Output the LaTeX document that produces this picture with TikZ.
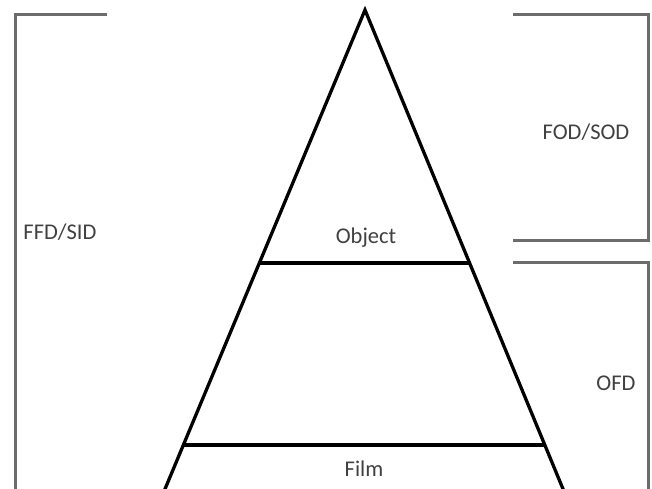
\documentclass[tikz,border=0pt]{standalone}
\usepackage{fontspec}
\setmainfont{Carlito}
\usetikzlibrary{calc}
\definecolor{brk}{RGB}{108,108,108}
\definecolor{txt}{RGB}{64,64,64}
\tikzset{
  bracket/.style={draw=brk, line width=3pt},
  tri/.style={draw=black, line width=3.3pt, line join=miter},
  lbl/.style={text=txt, font=\fontsize{22.5}{24}\selectfont, inner sep=0pt}
}
\begin{document}
\begin{tikzpicture}[x=1pt,y=1pt]
\useasboundingbox (0,0) rectangle (652,489);
\clip (0,0) rectangle (652,489);
\fill[white] (0,0) rectangle (652,489);
% triangle
\coordinate (apex) at (365,479);
\coordinate (bl) at (165,0);
\coordinate (br) at (563,0);
\coordinate (bl2) at ($(apex)!1.1!(bl)$);
\coordinate (br2) at ($(apex)!1.1!(br)$);
\draw[tri] (bl2) -- (apex) -- (br2);
\coordinate (objL) at ($(apex)!0.5283!(bl)$);
\coordinate (objR) at ($(apex)!0.5283!(br)$);
\coordinate (filmL) at ($(apex)!0.9081!(bl)$);
\coordinate (filmR) at ($(apex)!0.9081!(br)$);
\draw[tri] (objL) -- (objR);
\draw[tri] (filmL) -- (filmR);
\node[lbl] (object) at (366,251) {Object};
\node[lbl] (film) at (364,20) {Film};
% brackets
\coordinate (lt) at (107,474);
\coordinate (lc) at (15,474);
\coordinate (lb) at (15,-10);
\draw[bracket] (lt) -- (lc) -- (lb);
\coordinate (r1a) at (513,474);
\coordinate (r1b) at (648,474);
\coordinate (r1c) at (648,248);
\coordinate (r1d) at (513,248);
\draw[bracket] (r1a) -- (r1b) -- (r1c) -- (r1d);
\coordinate (r2a) at (513,226);
\coordinate (r2b) at (648,226);
\coordinate (r2c) at (648,-10);
\draw[bracket] (r2a) -- (r2b) -- (r2c);
\node[lbl] (ffd) at (60,257) {FFD/SID};
\node[lbl] (fod) at (586,357) {FOD/SOD};
\node[lbl] (ofd) at (616,106) {OFD};
\end{tikzpicture}
\end{document}
